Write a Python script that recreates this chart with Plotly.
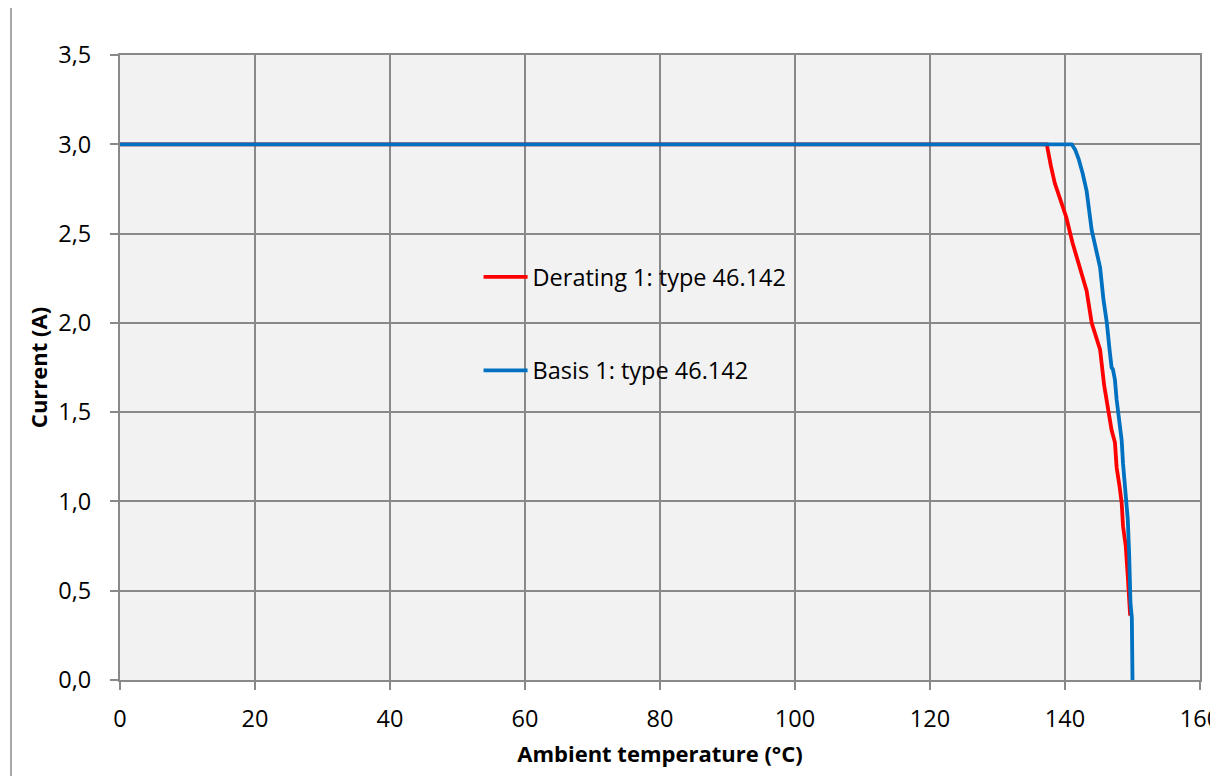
import plotly.graph_objects as go

# Derating 1 curve (red)
derating_temp = [0, 137.3, 137.9, 138.5, 139.4, 140.2, 141.1, 142.0, 143.2, 143.95, 144.6,
                 145.2, 145.8, 146.4, 146.9, 147.4, 147.65, 148.1, 148.4, 148.6, 149.0,
                 149.3, 149.5, 149.65]
derating_current = [3.0, 3.0, 2.88, 2.78, 2.68, 2.59, 2.45, 2.33, 2.18, 2.0, 1.93,
                    1.85, 1.65, 1.50, 1.40, 1.33, 1.19, 1.08, 0.99, 0.86, 0.75,
                    0.58, 0.45, 0.36]

# Basis 1 curve (blue)
basis_temp = [0, 141.0, 141.5, 142.0, 142.6, 143.2, 143.95, 144.6, 145.2, 145.7, 146.2,
              146.6, 146.9, 147.1, 147.4, 147.65, 148.0, 148.4, 148.6, 149.0, 149.3,
              149.5, 149.7, 149.9, 150.0]
basis_current = [3.0, 3.0, 2.97, 2.92, 2.84, 2.74, 2.52, 2.42, 2.31, 2.13, 2.0,
                 1.85, 1.75, 1.74, 1.68, 1.57, 1.47, 1.34, 1.21, 1.06, 0.90,
                 0.71, 0.43, 0.35, 0.0]

x_ticks = [0, 20, 40, 60, 80, 100, 120, 140, 160]
y_ticks = [0.0, 0.5, 1.0, 1.5, 2.0, 2.5, 3.0, 3.5]

font_family = "Open Sans"
fs = 23.5
title_fs = 22
grid_col = "#898989"

fig = go.Figure()
fig.add_trace(go.Scatter(x=derating_temp, y=derating_current, mode="lines",
                         name="Derating 1: type 46.142", legendgroup="a",
                         line=dict(color="#ff0000", width=3.8)))
fig.add_trace(go.Scatter(x=basis_temp, y=basis_current, mode="lines",
                         name="Basis 1: type 46.142", legendgroup="b",
                         line=dict(color="#0070c0", width=3.8)))

fig.update_layout(
    width=1210, height=768,
    margin=dict(l=112, r=18, t=47, b=96),
    paper_bgcolor="white", plot_bgcolor="#f2f2f2",
    separators=",.",
    font=dict(family=font_family, size=fs, color="black"),
    showlegend=True,
    legend=dict(x=0.332, y=0.68, xanchor="left", yanchor="top",
                bgcolor="rgba(0,0,0,0)", traceorder="grouped", tracegroupgap=60,
                itemwidth=44,
                font=dict(family=font_family, size=fs)),
    xaxis=dict(range=[0, 160], tickvals=x_ticks, showgrid=True, gridcolor=grid_col, gridwidth=2,
               zeroline=False, showline=True, mirror=True, linecolor=grid_col, linewidth=2,
               ticks="outside", ticklen=8, tickwidth=2, tickcolor=grid_col,
               ticklabelstandoff=9, automargin=False, ticklabeloverflow="allow",
               title=dict(text="<b>Ambient temperature (°C)</b>", standoff=13,
                          font=dict(family=font_family, size=title_fs)),
               tickfont=dict(family=font_family, size=fs)),
    yaxis=dict(range=[0, 3.5], tickvals=y_ticks, tickformat=".1f", showgrid=True, gridcolor=grid_col, gridwidth=2,
               zeroline=False, showline=True, mirror=True, linecolor=grid_col, linewidth=2,
               ticks="outside", ticklen=8, tickwidth=2, tickcolor=grid_col,
               ticklabelstandoff=14, automargin=False,
               title=dict(text="<b>Current (A)</b>", standoff=5,
                          font=dict(family=font_family, size=title_fs)),
               tickfont=dict(family=font_family, size=fs)),
    shapes=[
        dict(type="line", xref="paper", yref="paper", x0=-0.1009, x1=-0.1009, y0=-0.2, y1=1.0784,
             line=dict(color="#a6a6a6", width=2)),
        dict(type="line", xref="paper", yref="paper", x0=-0.1009, x1=1.1, y0=1.0784, y1=1.0784,
             line=dict(color="#e3e3e3", width=2)),
    ],
)

fig.write_html("out.html")
